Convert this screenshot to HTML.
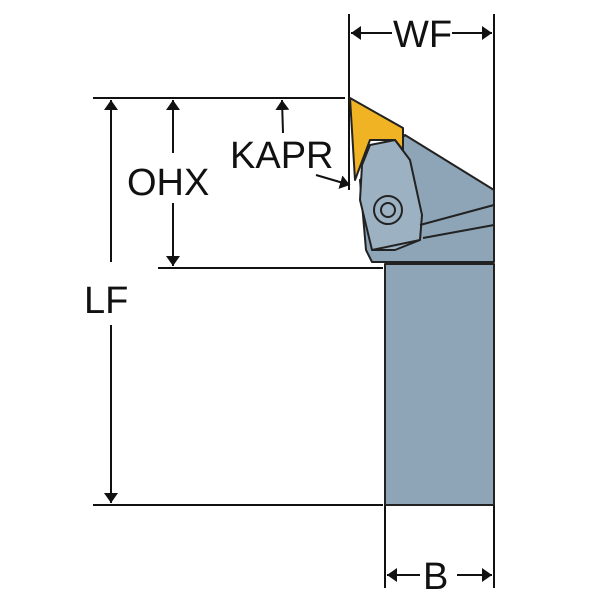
<!DOCTYPE html>
<html><head><style>body{margin:0;background:#fff}svg{display:block}</style></head><body>
<svg width="600" height="600" viewBox="0 0 600 600" xmlns="http://www.w3.org/2000/svg">
<defs><marker id="a" viewBox="0 0 10 10" refX="10" refY="5" markerWidth="8" markerHeight="8" orient="auto-start-reverse" markerUnits="userSpaceOnUse"><path d="M0,1 L10,5 L0,9 z" fill="#111"/></marker>
<marker id="b" viewBox="0 0 10 10" refX="10" refY="5" markerWidth="10" markerHeight="14" orient="auto-start-reverse" markerUnits="userSpaceOnUse" preserveAspectRatio="none"><path d="M0,0 L10,5 L0,10 z" fill="#111"/></marker></defs>
<g stroke="#111" stroke-width="2" fill="none">
<line x1="93" y1="98" x2="345" y2="98"/>
<line x1="158" y1="268" x2="383" y2="268"/>
<line x1="93" y1="505" x2="383" y2="505"/>
<line x1="349" y1="14" x2="349" y2="190"/>
<line x1="494" y1="14" x2="494" y2="190"/>
<line x1="385" y1="505" x2="385" y2="588"/>
<line x1="494" y1="505" x2="494" y2="588"/>
<line x1="111" y1="100" x2="111" y2="262" marker-start="url(#b)"/>
<line x1="111" y1="325" x2="111" y2="503" marker-end="url(#b)"/>
<line x1="173" y1="100" x2="173" y2="153" marker-start="url(#b)"/>
<line x1="173" y1="203" x2="173" y2="266" marker-end="url(#b)"/>
<line x1="282" y1="100" x2="283" y2="133" marker-start="url(#b)"/>
<line x1="316" y1="175" x2="350" y2="185" marker-end="url(#b)"/>
<line x1="351" y1="33" x2="392" y2="33" marker-start="url(#b)"/>
<line x1="452" y1="33" x2="492" y2="33" marker-end="url(#b)"/>
<line x1="387" y1="575" x2="420" y2="575" marker-start="url(#b)"/>
<line x1="457" y1="575" x2="492" y2="575" marker-end="url(#b)"/>
</g>
<g fill="#111" font-family="Liberation Sans, sans-serif" font-size="38">
<text x="127" y="195">OHX</text>
<text x="230" y="168">KAPR</text>
<text x="84" y="313">LF</text>
<text x="393" y="47">WF</text>
<text x="423" y="589">B</text>
</g>
<g stroke="#222" stroke-width="2" stroke-linejoin="round">
<rect x="385" y="264" width="109" height="241" fill="#8ea5b8"/>
<polygon points="405,135 494,190 494,262 372,262 366,250 360,180" fill="#8ea5b8"/>
<polygon points="350,98 403,128 403,150 395,140 370,140 355,180" fill="#f0b323"/>
<polygon points="370,145 395,140 410,160 422,215 420,240 395,250 372,250 360,200 362,165" fill="#9cb2c3"/>
<circle cx="388" cy="210" r="14" fill="#9cb2c3"/>
<circle cx="388" cy="210" r="7" fill="none"/>
<line x1="420" y1="225" x2="494" y2="205" fill="none"/>
<line x1="423" y1="238" x2="494" y2="225" fill="none"/>
<line x1="372" y1="250" x2="420" y2="240" fill="none"/>
</g>
</svg>
</body></html>
